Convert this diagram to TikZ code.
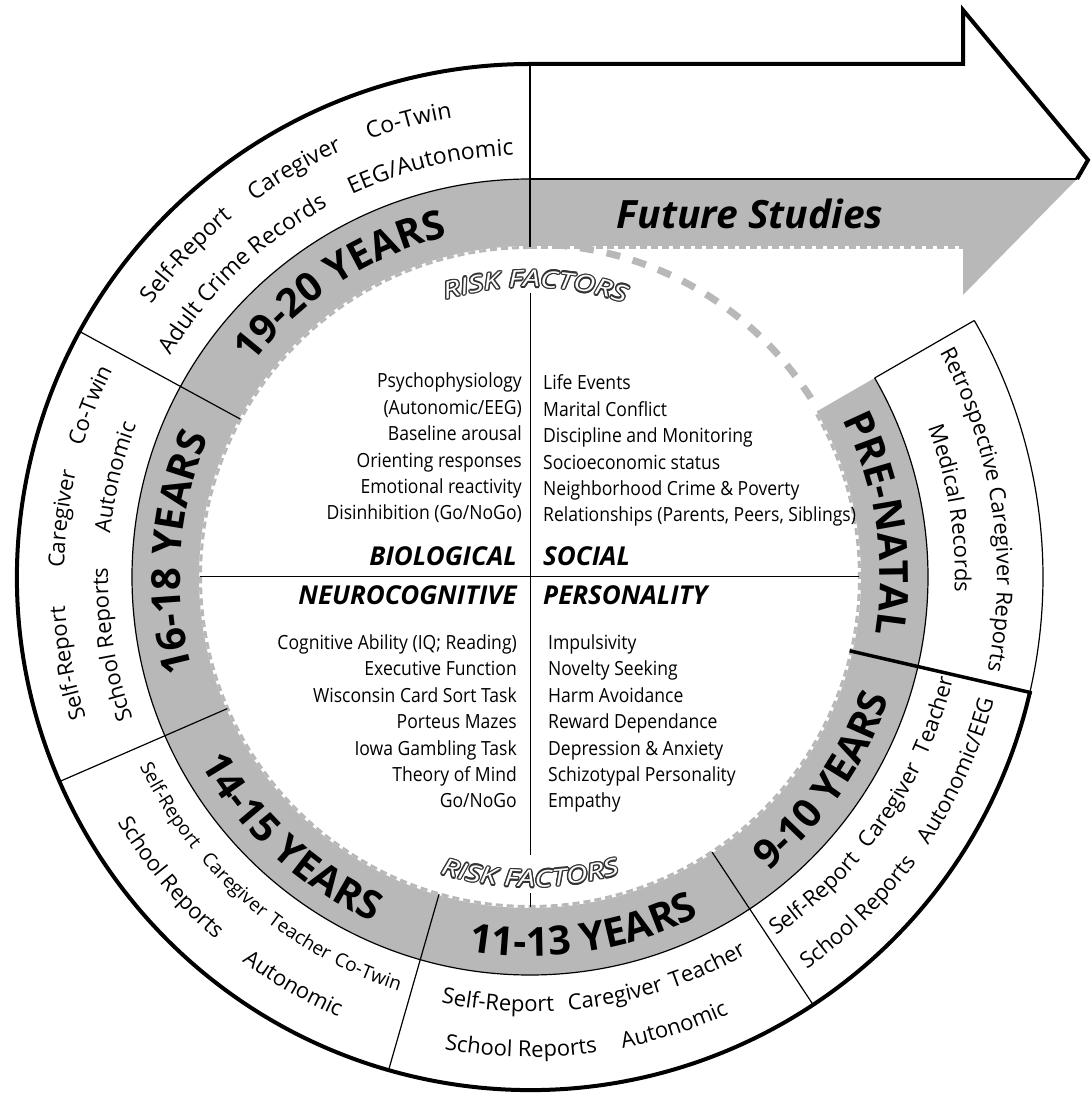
\documentclass[tikz,border=0pt]{standalone}
\usepackage{fontspec}
\setmainfont{Open Sans}
\newfontfamily\listfont{Open Sans}[FakeStretch=0.9]
\newfontfamily\riskfamily{Open Sans}[FakeStretch=1.3]
\usetikzlibrary{decorations.text}
\definecolor{ringgray}{HTML}{B8B8B8}

\newcommand\boxfont{\fontsize{22}{26}\selectfont}
\newcommand\bigboxfont{\fontsize{23}{26}\selectfont}
\newcommand\smallboxfont{\fontsize{19}{23}\selectfont}
\newcommand\yearfont{\fontsize{40}{44}\selectfont\bfseries}
\newcommand\riskfont{\riskfamily\fontsize{23}{26}\selectfont\itshape}

% text on the ring, tops outward (cw) or inward (ccw)
\newcommand\cwtext[4]{\path[decorate,decoration={text along path,text align=center,text={|#3|#4}}]
  ({#2+30}:#1) arc[start angle={#2+30},end angle={#2-30},radius=#1];}
\newcommand\ccwtext[4]{\path[decorate,decoration={text along path,text align=center,text={|#3|#4}}]
  ({#2-30}:#1) arc[start angle={#2-30},end angle={#2+30},radius=#1];}
\newcommand\risklabel[4]{\path[decorate,decoration={text along path,text align=center,
  text={|\riskfont\color{#1}|RISK FACTORS}}] (#3:#2) arc[start angle=#3,end angle=#4,radius=#2];}

\begin{document}
\begin{tikzpicture}[x=1pt,y=1pt,
    thinline/.style={line width=1.2pt},
    thickline/.style={line width=4pt},
    perf/.style={ringgray,line width=3pt,dash pattern=on 7pt off 4pt},
    listtext/.style={font=\listfont\fontsize{19.5}{22}\selectfont,inner sep=0pt},
    heading/.style={font=\fontsize{26}{28}\selectfont\bfseries\itshape,inner sep=0pt}]
  \useasboundingbox (-530,-517) rectangle (561,577);

  \fill[ringgray] (90:331) arc[start angle=90,end angle=390,radius=331]
    -- (390:398) arc[start angle=390,end angle=90,radius=398] -- cycle;
  \fill[ringgray] (0,331) -- (0,398) -- (547,398) -- (433,282) -- (433,331) -- cycle;
  \draw[perf] (90:329.5) arc[start angle=90,end angle=390,radius=329.5];
  \draw[perf] (0,329.5) -- (433,329.5);
  \draw[ringgray,line width=7pt,dash pattern=on 14pt off 13pt] (86:333) arc[start angle=86,end angle=31,radius=333];

  \draw[thinline] (90:398) arc[start angle=90,end angle=390,radius=398];
  \draw[thinline] (0,398) -- (547,398);
  \draw[thinline] (347:513) arc[start angle=347,end angle=390,radius=513];
  \foreach \a in {90,151.4,203.5,254,303.5}
    \draw[thinline] (\a:330) -- (\a:513);
  \draw[thinline] (30:398) -- (30:513);
  \draw[line width=3.5pt] (347:328) -- (347:515);
  \draw[thickline,line join=miter] (347:513) arc[start angle=-13,end angle=-270,radius=513]
    -- (433,513) -- (433,567) -- (558,417) -- (547,398);

  \draw[line width=1pt] (-330,0) -- (329,0);
  \draw[line width=1pt] (0,284) -- (0,-278);
  \draw[line width=1pt] (0,-316) -- (0,-330);

  \node[font=\fontsize{39}{42}\selectfont\bfseries\itshape] (future) at (220,363) {Future Studies};

  \foreach \a in {0,30,...,330}{
    \begin{scope}[shift={(\a:1.4)}]
      \risklabel{black!80}{290}{118}{60}
      \risklabel{black!80}{310}{240}{300}
    \end{scope}}
  \risklabel{white}{290}{118}{60}
  \risklabel{white}{310}{240}{300}

  \node[heading,anchor=base east] (bio) at (-13,11) {BIOLOGICAL};
  \node[heading,anchor=base west] (soc) at (13,11) {SOCIAL};
  \node[heading,anchor=base east] (neuro) at (-13,-28) {NEUROCOGNITIVE};
  \node[heading,anchor=base west] (pers) at (13,-28) {PERSONALITY};

  \foreach \t [count=\i] in {Psychophysiology,{(Autonomic/EEG)},Baseline arousal,
      Orienting responses,Emotional reactivity,{Disinhibition (Go/NoGo)}}
    \node[listtext,anchor=base east] (bio\i) at (-8,{189-26.4*(\i-1)}) {\t};
  \foreach \t [count=\i] in {Life Events,Marital Conflict,Discipline and Monitoring,
      Socioeconomic status,Neighborhood Crime \& Poverty,{Relationships (Parents, Peers, Siblings)}}
    \node[listtext,anchor=base west] (soc\i) at (13,{187-26.4*(\i-1)}) {\t};
  \foreach \t [count=\i] in {{Cognitive Ability (IQ; Reading)},Executive Function,
      Wisconsin Card Sort Task,Porteus Mazes,Iowa Gambling Task,Theory of Mind,{Go/NoGo}}
    \node[listtext,anchor=base east] (neuro\i) at (-13,{-72.5-26.4*(\i-1)}) {\t};
  \foreach \t [count=\i] in {Impulsivity,Novelty Seeking,Harm Avoidance,Reward Dependance,
      Depression \& Anxiety,Schizotypal Personality,Empathy}
    \node[listtext,anchor=base west] (pers\i) at (18,{-72.5-26.4*(\i-1)}) {\t};

  \cwtext{350}{123}{\yearfont}{19-20 YEARS}
  \cwtext{350}{176}{\yearfont}{16-18 YEARS}
  \ccwtext{379}{227.5}{\yearfont}{14-15 YEARS}
  \ccwtext{379}{278.6}{\yearfont}{11-13 YEARS}
  \ccwtext{379}{325.2}{\yearfont}{9-10 YEARS}
  \cwtext{350}{8.7}{\yearfont}{PRE-NATAL}

  \cwtext{466}{136.9}{\bigboxfont}{Self-Report}
  \cwtext{466}{120}{\bigboxfont}{Caregiver}
  \cwtext{466}{104.9}{\bigboxfont}{Co-Twin}
  \cwtext{422}{133.5}{\bigboxfont}{Adult Crime Records}
  \cwtext{422}{103.6}{\bigboxfont}{EEG/Autonomic}

  \cwtext{466}{190.6}{\boxfont}{Self-Report}
  \cwtext{466}{172.9}{\boxfont}{Caregiver}
  \cwtext{466}{158.7}{\boxfont}{Co-Twin}
  \cwtext{422}{189.2}{\boxfont}{School Reports}
  \cwtext{422}{166.5}{\boxfont}{Autonomic}

  \ccwtext{434}{212.4}{\smallboxfont}{Self-Report}
  \ccwtext{434}{226.2}{\smallboxfont}{Caregiver}
  \ccwtext{434}{237.4}{\smallboxfont}{Teacher}
  \ccwtext{434}{247.7}{\smallboxfont}{Co-Twin}
  \ccwtext{480}{219.9}{\boxfont}{School Reports}
  \ccwtext{480}{239.8}{\boxfont}{Autonomic}

  \ccwtext{435}{265.7}{\boxfont}{Self-Report}
  \ccwtext{435}{281.5}{\boxfont}{Caregiver}
  \ccwtext{435}{294.5}{\boxfont}{Teacher}
  \ccwtext{480}{268.9}{\boxfont}{School Reports}
  \ccwtext{480}{287.8}{\boxfont}{Autonomic}

  \ccwtext{435}{311.9}{\boxfont}{Self-Report}
  \ccwtext{435}{327.6}{\boxfont}{Caregiver}
  \ccwtext{435}{341.1}{\boxfont}{Teacher}
  \ccwtext{480}{314.4}{\boxfont}{School Reports}
  \ccwtext{480}{335.6}{\boxfont}{Autonomic/EEG}

  \cwtext{467}{8.6}{\boxfont}{Retrospective Caregiver Reports}
  \cwtext{425}{9.3}{\boxfont}{Medical Records}
\end{tikzpicture}
\end{document}
